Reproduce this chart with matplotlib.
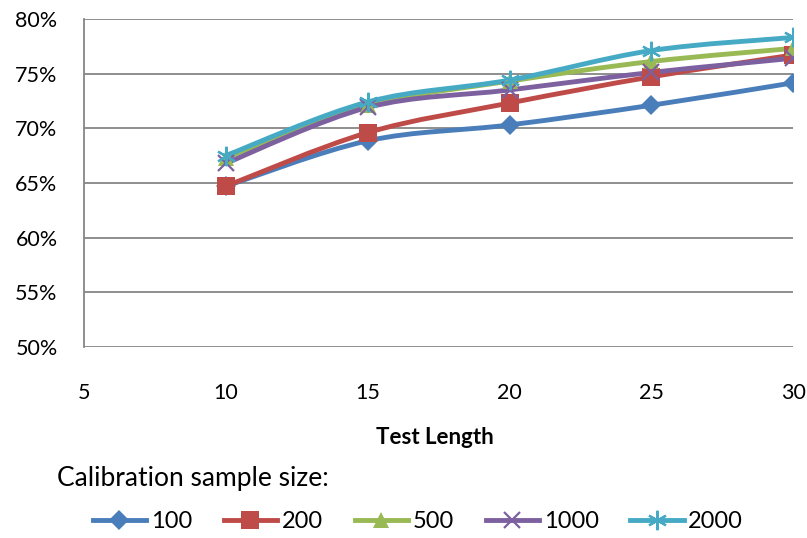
import matplotlib.pyplot as plt
from matplotlib.path import Path
from matplotlib.patches import PathPatch
from matplotlib.lines import Line2D
import numpy as np

plt.rcParams['font.family'] = ['Lato', 'DejaVu Sans']

test_length = [10, 15, 20, 25, 30]
s100 = [64.7, 68.85, 70.3, 72.1, 74.15]
s200 = [64.7, 69.6, 72.3, 74.7, 76.7]
s500 = [67.3, 72.1, 74.3, 76.1, 77.3]
s1000 = [66.8, 71.9, 73.5, 75.1, 76.4]
s2000 = [67.5, 72.4, 74.4, 77.1, 78.3]
labels = ["100", "200", "500", "1000", "2000"]
yticks = [50, 55, 60, 65, 70, 75, 80]
xticks = [5, 10, 15, 20, 25, 30]

series = [s100, s200, s500, s1000, s2000]
colors = ["#4A7EBB", "#BE4B48", "#98B954", "#7D60A0", "#46AAC5"]
markers = ["D", "s", "^", "x", (6, 2, 0)]
msizes = [10, 13, 11, 12, 14]


def smooth_path(x, y, t=1/6):
    # Catmull-Rom style bezier through the points, like excel's smoothed lines
    pts = np.column_stack([x, y])
    verts = [pts[0]]
    codes = [Path.MOVETO]
    n = len(pts)
    for i in range(n - 1):
        p0 = pts[i - 1] if i > 0 else pts[i]
        p1 = pts[i]
        p2 = pts[i + 1]
        p3 = pts[i + 2] if i + 2 < n else pts[i + 1]
        c1 = p1 + (p2 - p0) * t
        c2 = p2 - (p3 - p1) * t
        verts += [c1, c2, p2]
        codes += [Path.CURVE4] * 3
    return Path(verts, codes)


fig = plt.figure(figsize=(8.07, 5.38), dpi=100)
ax = fig.add_axes([0.104, 0.355, 0.879, 0.610])

for vals, c, m, ms in zip(series, colors, markers, msizes):
    patch = PathPatch(smooth_path(test_length, vals), facecolor="none",
                      edgecolor=c, lw=3.5, capstyle="round", joinstyle="round", zorder=3)
    ax.add_patch(patch)
    mew = 1.6 if m in ("x", (6, 2, 0)) else 0
    ax.plot(test_length, vals, linestyle="none", marker=m, markersize=ms,
            color=c, markeredgecolor=c, markeredgewidth=mew, zorder=4)

ax.set_xlim(5, 30)
ax.set_ylim(50, 80)
ax.set_yticks(yticks)
ax.set_yticklabels([f"{v}%" for v in yticks])
ax.set_xticks(xticks)
ax.grid(axis="y", color="#868686", lw=1.3)
ax.set_axisbelow(True)
for s in ["top", "right", "bottom"]:
    ax.spines[s].set_visible(False)
ax.spines["left"].set_color("#868686")
ax.spines["left"].set_linewidth(1.3)
ax.tick_params(length=0, labelsize=15.5)
ax.tick_params(axis="y", pad=19)
ax.tick_params(axis="x", pad=26)
ax.set_xlabel("Test Length", fontsize=16, fontweight="bold", va="center")
ax.xaxis.set_label_coords(0.495, -0.277)

fig.text(0.0706, 0.1115, "Calibration sample size:", fontsize=19, va="center")

handles = [Line2D([], [], color=c, lw=3.5, marker=m, markersize=ms,
                  markeredgecolor=c, markeredgewidth=(1.6 if m in ("x", (6, 2, 0)) else 0))
           for c, m, ms in zip(colors, markers, msizes)]
fig.legend(handles, labels, loc="center", bbox_to_anchor=(0.518, 0.03), ncol=5,
           frameon=False, fontsize=17, handlelength=2.25, handletextpad=0.2,
           columnspacing=1.35)

fig.savefig("out.png", dpi=100)
